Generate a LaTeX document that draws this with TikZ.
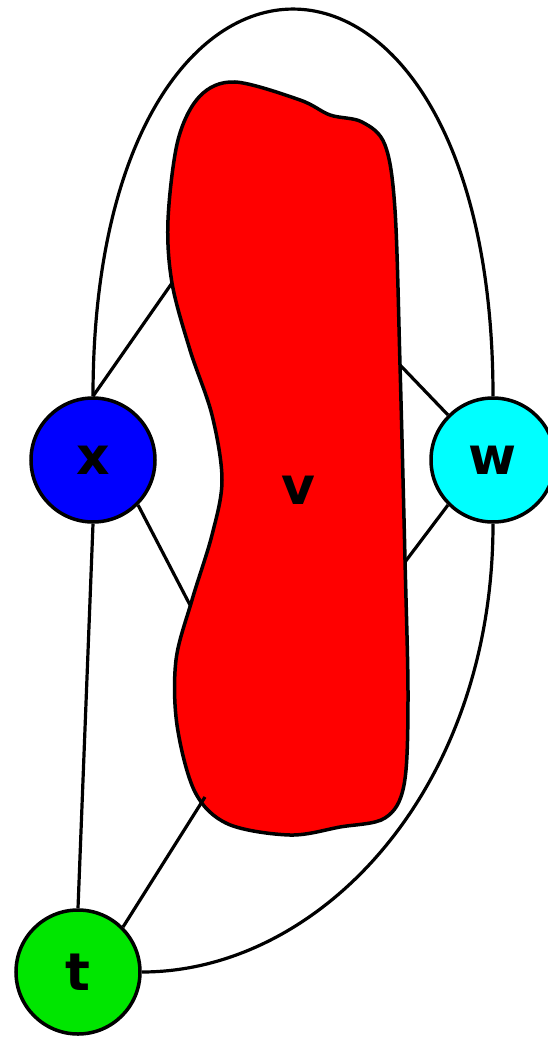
\documentclass[tikz,border=0pt]{standalone}
\usepackage{fontspec}
\setmainfont{DejaVu Sans}
\usepackage{tikz}
\usetikzlibrary{positioning}

\definecolor{vertgreen}{RGB}{0,230,0}
\definecolor{vertcyan}{RGB}{0,255,255}
\definecolor{vertblue}{RGB}{0,0,255}
\definecolor{blobred}{RGB}{255,0,0}

\begin{document}
\begin{tikzpicture}[x=1pt,y=-1pt,
    vertex/.style={draw,circle,line width=3.5pt,minimum size=124pt,inner sep=0pt,
        font=\fontsize{52}{60}\selectfont\bfseries},
    edge/.style={line width=3.2pt}]
    \useasboundingbox (0,0) rectangle (547,1040);

    % The blob
    \draw[line width=3.5pt,fill=blobred] plot[smooth cycle,tension=0.55] coordinates {
        (178,140) (200,96) (235,82) (300,100) (330,115) (362,122) (385,145) (395,210)
        (400,365) (405,560) (408,700) (404,785) (385,818) (340,827) (290,835)
        (228,824) (195,792) (177,725) (176,660) (192,600) (212,535) (222,480)
        (212,415) (190,350) (172,283) (168,220)};
    \node[font=\fontsize{52}{60}\selectfont\bfseries] (v) at (298,490) {v};

    % Points on the blob
    \coordinate (v1) at (172,283);
    \coordinate (v2) at (190,605);
    \coordinate (v3) at (400,365);
    \coordinate (v4) at (405,562);
    \coordinate (v5) at (205,797);

    % Three vertices
    \node[vertex,fill=vertblue] (x) at (93,460) {x};
    \node[vertex,fill=vertcyan] (w) at (493,460) {w};
    \node[vertex,fill=vertgreen] (t) at (78,972) {t};

    % Edges
    \draw[edge] (x.north) -- (v1);
    \draw[edge] (x.-45) -- (v2);
    \draw[edge] (w.135) -- (v3);
    \draw[edge] (w.-135) -- (v4);
    \draw[edge] (t.45) -- (v5);
    \draw[edge] (x.south) -- (t.north);
    \draw[edge] (x.north) .. controls (93,-120) and (493,-120) .. (w.north);
    \draw[edge] (w.south) .. controls (493,790) and (320,972) .. (t.east);
\end{tikzpicture}
\end{document}
